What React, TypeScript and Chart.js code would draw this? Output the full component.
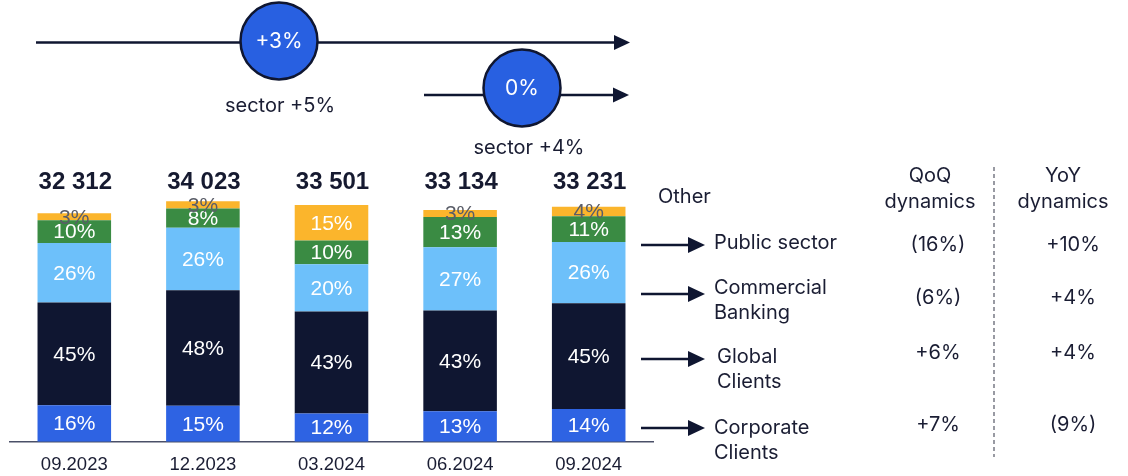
import { useEffect, useRef } from 'react';
import { Chart, registerables } from 'chart.js';

Chart.register(...registerables);

const categories = ['09.2023', '12.2023', '03.2024', '06.2024', '09.2024'];
const totals = [32312, 34023, 33501, 33134, 33231];
const totalLabels = ['32 312', '34 023', '33 501', '33 134', '33 231'];
const corporatePct = [16, 15, 12, 13, 14];
const globalPct = [45, 48, 43, 43, 45];
const commercialPct = [26, 26, 20, 27, 26];
const publicPct = [10, 8, 10, 13, 11];
const otherPct = [3, 3, 15, 3, 4];

const segmentNames = ['Corporate Clients', 'Global Clients', 'Commercial Banking', 'Public sector', 'Other'];
const segmentPcts = [corporatePct, globalPct, commercialPct, publicPct, otherPct];
const segmentColors = ['#2E63E3', '#0F1631', '#6DC0FA', '#3A8B43', '#FBB52C'];

const rightLabels = [['Public sector'], ['Commercial', 'Banking'], ['Global', 'Clients'], ['Corporate', 'Clients']];
const qoqValues = ['(16%)', '(6%)', '+6%', '+7%'];
const yoyValues = ['+10%', '+4%', '+4%', '(9%)'];
const growthBadges = ['+3%', '0%'];
const sectorNotes = ['sector +5%', 'sector +4%'];

const TEXT = '#1A1D33';
const NAVY = '#0F1631';
const ARIAL = '"Liberation Sans", Arial, sans-serif';
const INTER = 'Inter, "Noto Sans", sans-serif';

function arrow(ctx: CanvasRenderingContext2D, x1: number, x2: number, y: number, head: number, half: number) {
  ctx.save();
  ctx.strokeStyle = NAVY;
  ctx.fillStyle = NAVY;
  ctx.lineWidth = 2.5;
  ctx.beginPath();
  ctx.moveTo(x1, y);
  ctx.lineTo(x2 - head + 1, y);
  ctx.stroke();
  ctx.beginPath();
  ctx.moveTo(x2 - head, y - half);
  ctx.lineTo(x2, y);
  ctx.lineTo(x2 - head, y + half);
  ctx.closePath();
  ctx.fill();
  ctx.restore();
}

function badge(ctx: CanvasRenderingContext2D, x: number, y: number, r: number, text: string) {
  ctx.save();
  ctx.beginPath();
  ctx.arc(x, y, r, 0, Math.PI * 2);
  ctx.fillStyle = '#2860E1';
  ctx.fill();
  ctx.lineWidth = 2.5;
  ctx.strokeStyle = NAVY;
  ctx.stroke();
  ctx.fillStyle = '#FFFFFF';
  ctx.font = '21px ' + INTER;
  ctx.textAlign = 'center';
  ctx.textBaseline = 'middle';
  ctx.fillText(text, x, y + 1);
  ctx.restore();
}

const labelsPlugin = {
  id: 'labelsPlugin',
  afterDatasetsDraw(chart: any) {
    const ctx: CanvasRenderingContext2D = chart.ctx;
    ctx.save();
    ctx.textAlign = 'center';
    ctx.textBaseline = 'middle';
    ctx.font = '21px ' + ARIAL;
    chart.data.datasets.forEach((ds: any, di: number) => {
      const meta = chart.getDatasetMeta(di);
      meta.data.forEach((bar: any, i: number) => {
        const pct = segmentPcts[di][i];
        const cy = (bar.y + bar.base) / 2;
        ctx.fillStyle = pct <= 4 ? '#5A5D68' : '#FFFFFF';
        ctx.fillText(pct + '%', bar.x, cy + 1);
      });
    });
    // totals
    const meta0 = chart.getDatasetMeta(0);
    ctx.font = 'bold 24px ' + ARIAL;
    ctx.fillStyle = '#161A30';
    meta0.data.forEach((bar: any, i: number) => {
      ctx.fillText(totalLabels[i], bar.x + 1, 182);
    });
    ctx.restore();
  },
  afterDraw(chart: any) {
    const ctx: CanvasRenderingContext2D = chart.ctx;
    // top growth arrows
    arrow(ctx, 36, 630, 42.5, 16, 7.5);
    badge(ctx, 279, 41, 38.5, growthBadges[0]);
    arrow(ctx, 424, 629, 95, 16, 7.5);
    badge(ctx, 522, 88, 38.5, growthBadges[1]);
    ctx.save();
    ctx.fillStyle = TEXT;
    ctx.textAlign = 'center';
    ctx.textBaseline = 'middle';
    ctx.font = '20px ' + INTER;
    ctx.fillText(sectorNotes[0], 280, 106);
    ctx.fillText(sectorNotes[1], 529, 148);

    // right side table
    ctx.textAlign = 'left';
    ctx.fillText(segmentNames[4], 658, 197);
    ctx.textAlign = 'center';
    ctx.fillText('QoQ', 930, 176);
    ctx.fillText('dynamics', 930, 202);
    ctx.fillText('YoY', 1063, 176);
    ctx.fillText('dynamics', 1063, 202);

    const arrowYs = [245, 294, 359, 428];
    const labelYs = [[243], [288, 313], [357, 382], [428, 453]];
    const labelXs = [714, 714, 717, 714];
    const valueYs = [245, 298, 353, 425];
    rightLabels.forEach((lines, i) => {
      arrow(ctx, 641, 705, arrowYs[i], 17, 8);
      ctx.fillStyle = TEXT;
      ctx.font = '20px ' + INTER;
      ctx.textAlign = 'left';
      lines.forEach((ln, j) => ctx.fillText(ln, labelXs[i], labelYs[i][j]));
      ctx.textAlign = 'center';
      ctx.fillText(qoqValues[i], 938, valueYs[i]);
      ctx.fillText(yoyValues[i], 1073, valueYs[i]);
    });

    ctx.strokeStyle = '#555866';
    ctx.lineWidth = 1.2;
    ctx.setLineDash([4, 3]);
    ctx.beginPath();
    ctx.moveTo(994, 167);
    ctx.lineTo(994, 457);
    ctx.stroke();
    ctx.restore();
  },
};

export default function App() {
  const ref = useRef<HTMLCanvasElement>(null);
  useEffect(() => {
    document.body.style.margin = '0';
    const canvas = ref.current;
    if (!canvas) return;
    const datasets = segmentPcts.map((pcts, si) => ({
      label: segmentNames[si],
      data: pcts.map((p, i) => (totals[i] * p) / 100),
      backgroundColor: segmentColors[si],
      borderWidth: 0,
      barPercentage: 0.572,
      categoryPercentage: 1,
    }));
    const chart = new Chart(canvas, {
      type: 'bar',
      data: { labels: categories, datasets },
      options: {
        animation: false,
        responsive: true,
        maintainAspectRatio: false,
        layout: { padding: { left: 10, right: 475, top: 159, bottom: -12 } },
        plugins: { legend: { display: false }, tooltip: { enabled: false } },
        scales: {
          x: {
            stacked: true,
            grid: { display: false, drawTicks: false },
            border: { display: true, color: '#4A5068', width: 1.5 },
            ticks: { color: TEXT, font: { size: 18.5, family: ARIAL }, padding: 12 },
          },
          y: { stacked: true, display: false, min: 0, max: 40000 },
        },
      },
      plugins: [labelsPlugin],
    });
    return () => chart.destroy();
  }, []);
  return (
    <div style={{ width: 1128, height: 476, position: 'relative' }}>
      <canvas ref={ref} />
    </div>
  );
}
